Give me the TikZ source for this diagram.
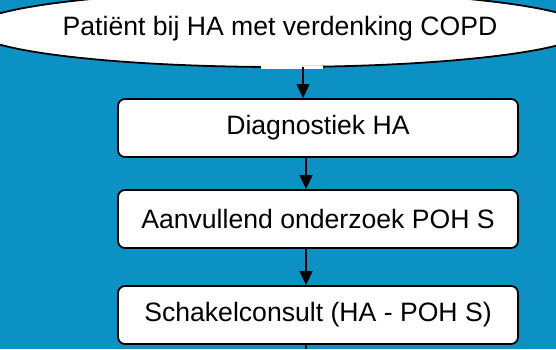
\documentclass[tikz,border=0pt]{standalone}
\usepackage{fontspec}
\setmainfont{Liberation Sans}
\usetikzlibrary{shapes.geometric,arrows.meta}
\definecolor{bgblue}{RGB}{11,145,195}
\tikzset{
  flowbox/.style={draw=black, fill=white, line width=1.8pt, rounded corners=7pt,
    minimum width=400pt, minimum height=58pt, inner sep=0pt,
    font=\fontsize{26.6}{30}\selectfont},
  startbox/.style={ellipse, draw=black, fill=white, line width=1.8pt,
    minimum width=550pt, minimum height=76pt, inner sep=0pt,
    font=\fontsize{26.6}{30}\selectfont},
  arr/.style={line width=1.2pt, -{Triangle[length=14pt,width=13pt]}},
  plain/.style={line width=1.2pt}
}
\begin{document}
\begin{tikzpicture}[x=1pt,y=1pt]
  % background
  \fill[bgblue] (0,0) rectangle (556,349);
  \useasboundingbox (0,0) rectangle (556,349);

  % start node and process steps
  \node[startbox] (start) at (280,320) {Patiënt bij HA met verdenking COPD};
  \fill[white] (261,280) rectangle (323,283);
  \node[flowbox] (diag) at (318,221) {Diagnostiek HA};
  \node[flowbox] (aanv) at (318,130) {Aanvullend onderzoek POH S};
  \node[flowbox] (schak) at (318,34) {Schakelconsult (HA - POH S)};

  % connectors
  \coordinate (c1) at (303,0);
  \coordinate (c2) at (306,0);
  \coordinate (tail) at (306,0);
  \draw[arr] (c1 |- 0,282) -- (c1 |- diag.north);
  \draw[arr] (c2 |- diag.south) -- (c2 |- aanv.north);
  \draw[arr] (c2 |- aanv.south) -- (c2 |- schak.north);
  \draw[plain] (c2 |- schak.south) -- (tail);
\end{tikzpicture}
\end{document}
